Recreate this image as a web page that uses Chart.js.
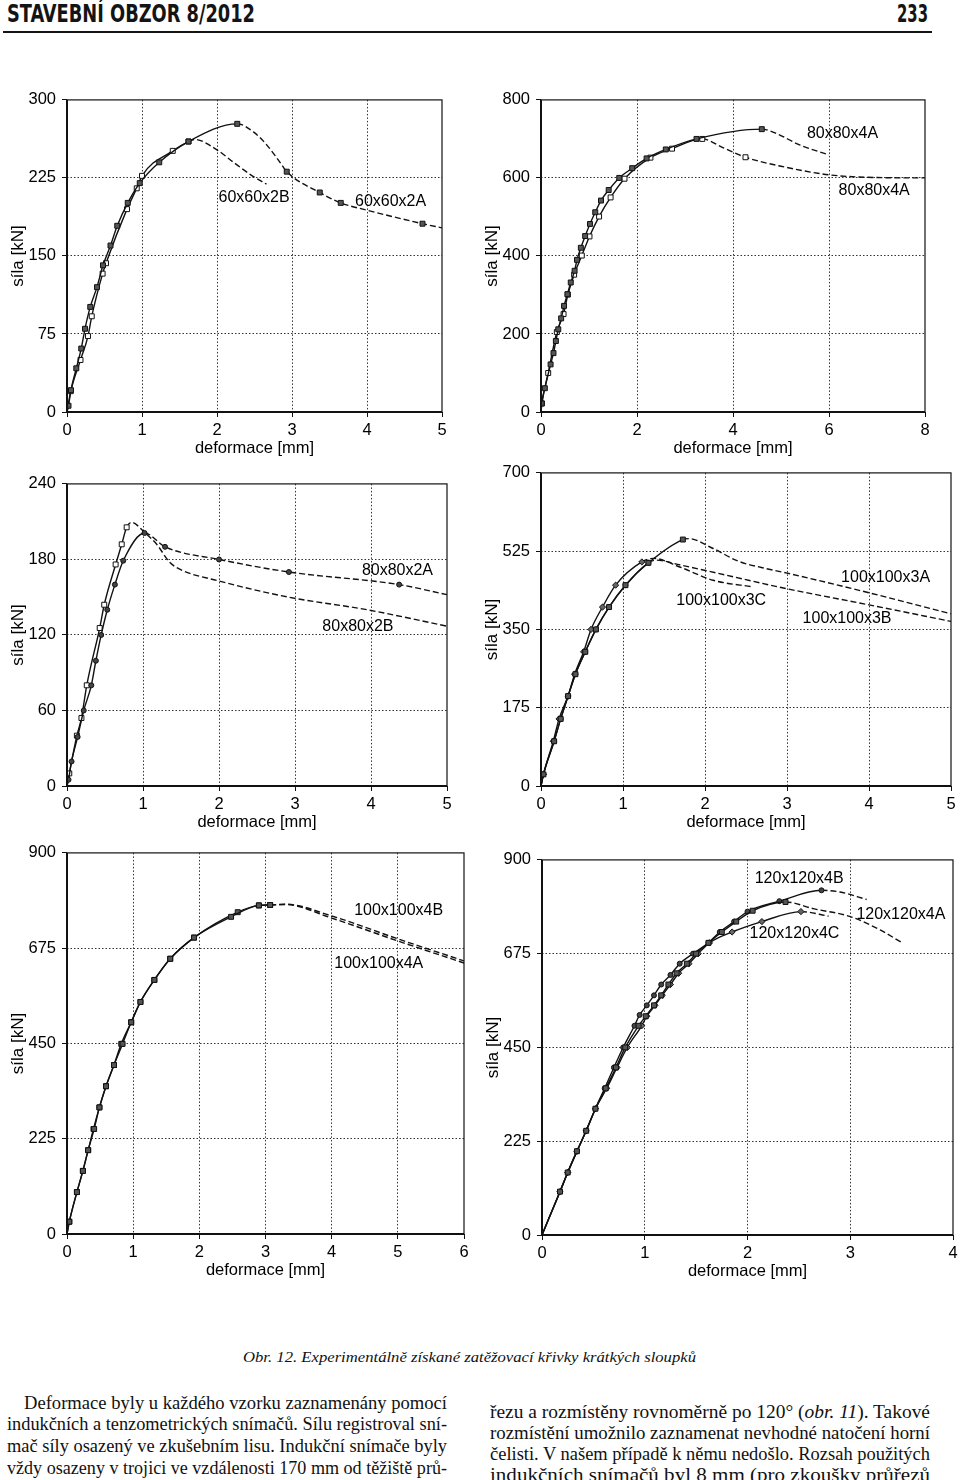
<!DOCTYPE html>
<html>
<head>
<meta charset="utf-8">
<script src="https://cdn.jsdelivr.net/npm/chart.js@4.4.1/dist/chart.umd.min.js"></script>
<style>
  html, body { margin: 0; padding: 0; background: #fff; }
  body { position: relative; width: 960px; height: 1480px; overflow: hidden; color: #111; }
  canvas { position: absolute; }
  .fit { position: absolute; white-space: nowrap; display: inline-block; transform-origin: 0 50%; }
  .hdr { font-family: "Liberation Sans Narrow", "DejaVu Sans Condensed", "Liberation Sans", sans-serif; font-weight: bold; font-size: 25px; line-height: 25px; color: #141414; }
  .rule { position: absolute; left: 3px; top: 31px; width: 929px; height: 2px; background: #141414; }
  .cap { font-family: "Liberation Serif", "DejaVu Serif", serif; font-style: italic; font-size: 15px; line-height: 15px; }
  .txt { font-family: "Liberation Serif", "DejaVu Serif", serif; font-size: 19.5px; line-height: 20px; }
</style>
</head>
<body>

<div class="rule"></div>
<span class="fit hdr" data-l="7" data-t="1" data-w="248">STAVEBNÍ OBZOR 8/2012</span>
<span class="fit hdr" data-l="897" data-t="1" data-w="31">233</span>

<canvas id="chart1"></canvas>
<canvas id="chart2"></canvas>
<canvas id="chart3"></canvas>
<canvas id="chart4"></canvas>
<canvas id="chart5"></canvas>
<canvas id="chart6"></canvas>

<span class="fit cap" data-l="243" data-t="1350" data-w="453">Obr. 12. Experimentálně získané zatěžovací křivky krátkých sloupků</span>

<span class="fit txt" data-l="24" data-t="1393" data-w="423">Deformace byly u každého vzorku zaznamenány pomocí</span>
<span class="fit txt" data-l="7" data-t="1414" data-w="440">indukčních a tenzometrických snímačů. Sílu registroval sní-</span>
<span class="fit txt" data-l="7" data-t="1436" data-w="440">mač síly osazený ve zkušebním lisu. Indukční snímače byly</span>
<span class="fit txt" data-l="7" data-t="1458" data-w="440">vždy osazeny v trojici ve vzdálenosti 170 mm od těžiště prů-</span>

<span class="fit txt" data-l="490" data-t="1402" data-w="440">řezu a rozmístěny rovnoměrně po 120° (<i>obr. 11</i>). Takové</span>
<span class="fit txt" data-l="490" data-t="1423" data-w="440">rozmístění umožnilo zaznamenat nevhodné natočení horní</span>
<span class="fit txt" data-l="490" data-t="1444" data-w="440">čelisti. V našem případě k němu nedošlo. Rozsah použitých</span>
<span class="fit txt" data-l="490" data-t="1465" data-w="440">indukčních snímačů byl 8 mm (pro zkoušky průřezů</span>

<script>
const FONT = '"Liberation Sans", Arial, Helvetica, sans-serif';
const INK = '#111';

// panel 1 - 60x60x2
const p1_60x60x2A = [[0,0],[0.02,6],[0.053,21],[0.124,42],[0.19,61],[0.24,80],[0.31,101],[0.40,120],[0.48,141],[0.58,160],[0.67,179],[0.81,201],[0.97,220],[1.23,240],[1.62,260],[2.27,277],[2.49,269],[2.66,257],[2.84,240],[2.93,231],[3.37,211],[3.65,201],[4.0,194],[4.74,181],[5.0,177]];
const p1_60x60x2B = [[0,0],[0.05,20],[0.18,50],[0.28,73],[0.33,92],[0.475,133],[0.52,143],[0.80,195],[0.93,215],[1.0,227],[1.41,251],[1.62,260],[1.7,262],[2.0,252],[2.22,240],[2.45,228],[2.66,219]];
const p1_marksA = [2.93, 3.37, 3.65, 4.74];

// panel 2 - 80x80x4
const p2_80x80x4A_up = [[0,0],[0.014,22],[0.08,61],[0.2,122],[0.26,151],[0.31,182],[0.36,212],[0.42,240],[0.48,272],[0.55,302],[0.62,332],[0.70,362],[0.75,390],[0.83,421],[0.92,451],[1.02,482],[1.13,512],[1.25,542],[1.41,569],[1.63,600],[1.9,625],[2.2,650],[2.6,673],[3.24,700],[4.6,725],[4.9,714],[5.4,684],[6.0,659]];
const p2_80x80x4A_low = [[0,0],[0.02,22],[0.15,100],[0.33,205],[0.47,251],[0.56,301],[0.69,352],[0.85,401],[1.01,450],[1.21,501],[1.45,550],[1.74,598],[2.28,652],[2.73,675],[3.36,700],[3.8,677],[4.26,653],[5.0,630],[6.0,608],[7.0,601],[8.0,600]];
const p2_marksLow = [4.26];

// panel 3 - 80x80x2
const p3_80x80x2A = [[0,0],[0.02,5],[0.06,19.5],[0.14,39],[0.22,60],[0.32,80],[0.38,99.5],[0.45,120],[0.53,140],[0.63,160],[0.74,179],[1.02,201],[1.29,190],[2.0,180],[2.92,170],[4.37,160],[5.0,152]];
const p3_80x80x2B = [[0,0],[0.03,10],[0.13,40],[0.19,54],[0.26,80],[0.43,125.5],[0.49,144],[0.64,176],[0.72,192],[0.785,205.5],[0.85,209.4],[1.02,201.5],[1.18,192],[1.355,177.5],[1.49,172],[1.99,163],[2.92,150],[3.95,140],[5.0,127]];
const p3_marksA = [1.29, 2.0, 2.92, 4.37];

// panel 4 - 100x100x3
const p4_100x100x3A = [[0,0],[0.03,26],[0.16,100],[0.24,150],[0.33,201],[0.42,250],[0.54,300],[0.67,350],[0.83,400],[1.03,449],[1.31,499],[1.73,551],[1.8,553],[2.1,531],[2.4,503],[2.7,488],[3.0,476],[4.0,432],[5.0,385]];
const p4_100x100x3B = [[0,0],[0.03,26],[0.16,100],[0.24,150],[0.33,201],[0.42,250],[0.54,300],[0.67,350],[0.83,400],[1.03,449],[1.31,499],[1.4,505],[1.7,494],[3.0,441],[4.0,405],[5.0,368]];
const p4_100x100x3C = [[0,0],[0.03,26],[0.15,100],[0.22,150],[0.33,201],[0.41,250],[0.52,300],[0.61,350],[0.75,400],[0.91,449],[1.23,501],[1.37,509],[1.7,489],[2.1,460],[2.59,445]];

// panel 5 - 100x100x4
const p5_100x100x4A = [[0,0],[0.035,29],[0.15,99],[0.24,149],[0.32,198],[0.41,248],[0.49,299],[0.59,349],[0.71,399],[0.84,449],[0.97,500],[1.11,548],[1.32,600],[1.56,650],[1.92,700],[2.48,749],[2.90,776],[3.07,777],[3.3,778],[4.0,746],[5.0,692],[6.0,640]];
const p5_100x100x4B = [[0,0],[0.035,29],[0.15,99],[0.24,149],[0.32,198],[0.40,248],[0.49,299],[0.59,349],[0.71,399],[0.82,449],[0.97,500],[1.11,548],[1.32,600],[1.56,650],[1.92,700],[2.58,760],[2.90,776],[3.07,777],[3.3,779],[4.0,751],[5.0,697],[6.0,645]];

// panel 6 - 120x120x4
const p6_120x120x4A = [[0,0],[0.175,104],[0.25,150],[0.34,201],[0.43,250],[0.52,303],[0.62,352],[0.72,402],[0.81,450],[0.94,502],[1.01,525],[1.09,551],[1.16,575],[1.23,601],[1.31,628],[1.41,651],[1.50,675],[1.62,701],[1.75,727],[1.89,752],[2.05,778],[2.37,799],[2.64,783],[3.0,764],[3.29,732],[3.5,702]];
const p6_120x120x4B = [[0,0],[0.175,104],[0.25,150],[0.34,201],[0.43,250],[0.52,303],[0.61,352],[0.70,402],[0.79,450],[0.90,502],[0.95,528],[1.02,551],[1.09,575],[1.16,601],[1.25,624],[1.34,651],[1.47,675],[1.62,701],[1.73,727],[1.87,752],[2.0,776],[2.31,801],[2.72,827],[2.9,823],[3.16,805]];
const p6_120x120x4C = [[0,0],[0.175,104],[0.25,150],[0.34,201],[0.43,250],[0.52,303],[0.63,352],[0.73,402],[0.83,450],[0.97,502],[1.02,525],[1.10,551],[1.17,575],[1.25,601],[1.33,628],[1.43,651],[1.52,675],[1.63,701],[1.85,727],[2.14,752],[2.52,776],[2.79,765]];

// marker looks
const OPEN_SQ = { shape: 'rect', r: 3.5, fill: '#fff' };
const FILL_SQ = { shape: 'rect', r: 3.5, fill: '#555' };
const FILL_CI = { shape: 'circle', r: 2.5, fill: '#444' };
const DIAM = { shape: 'rectRot', r: 3.1, fill: '#666' };

function specimen(arr, split, look, marks) {
  marks = marks || [];
  return {
    data: arr.map(p => ({ x: p[0], y: p[1] })),
    showLine: true,
    borderColor: INK,
    borderWidth: 1.4,
    cubicInterpolationMode: 'monotone',
    segment: { borderDash: c => c.p0.parsed.x >= split ? [6, 3] : undefined },
    pointStyle: look.shape,
    pointRadius: c => {
      const v = c.raw;
      if (!v || v.x === 0) return 0;
      return (v.x <= split || marks.includes(v.x)) ? look.r : 0;
    },
    pointBackgroundColor: look.fill,
    pointBorderColor: INK,
    pointBorderWidth: 1
  };
}

const frame = {
  id: 'frame',
  afterDraw(chart, args, opts) {
    const { ctx, chartArea: a, scales: { x, y } } = chart;
    ctx.save();
    ctx.strokeStyle = INK;
    ctx.lineWidth = 1.2;
    ctx.strokeRect(a.left, a.top, a.right - a.left, a.bottom - a.top);
    ctx.lineWidth = 2;
    ctx.beginPath();
    ctx.moveTo(a.left, a.top); ctx.lineTo(a.left, a.bottom); ctx.lineTo(a.right, a.bottom);
    ctx.stroke();
    ctx.font = '16px ' + FONT;
    ctx.fillStyle = '#000';
    ctx.textBaseline = 'middle';
    (opts.labels || []).forEach(l => {
      ctx.fillText(l[2], x.getPixelForValue(l[0]), y.getPixelForValue(l[1]));
    });
    ctx.restore();
  }
};

function makePanel(id, box, xMax, xStep, yMax, yStep, datasets, labels) {
  const [L, T, R, B] = box;
  const PT = 10, PR = 10, YW = 67, XH = 48;
  const cv = document.getElementById(id);
  cv.width = R - L + YW + PR;
  cv.height = B - T + PT + XH;
  cv.style.left = (L - YW) + 'px';
  cv.style.top = (T - PT) + 'px';
  const gridCol = max => c => (c.tick && c.tick.value > 0 && c.tick.value < max) ? '#333' : 'rgba(0,0,0,0)';
  new Chart(cv, {
    type: 'scatter',
    data: { datasets: datasets },
    plugins: [frame],
    options: {
      responsive: false,
      animation: false,
      layout: { padding: { top: PT, right: PR, left: 0, bottom: 0 } },
      plugins: { legend: { display: false }, tooltip: { enabled: false }, frame: { labels: labels } },
      scales: {
        x: {
          type: 'linear', min: 0, max: xMax,
          afterFit: s => { s.height = XH; },
          ticks: { stepSize: xStep, color: '#000', font: { family: FONT, size: 16.5 }, padding: 4, maxRotation: 0 },
          grid: { color: gridCol(xMax), lineWidth: 1, tickLength: 5, tickColor: INK, tickBorderDash: [] },
          border: { display: false, dash: [1.5, 2] },
          title: { display: true, text: 'deformace [mm]', color: '#000', font: { family: FONT, size: 16.5 }, padding: { top: 0, bottom: 2 } }
        },
        y: {
          type: 'linear', min: 0, max: yMax,
          afterFit: s => { s.width = YW; },
          ticks: { stepSize: yStep, color: '#000', font: { family: FONT, size: 16.5 }, padding: 6 },
          grid: { color: gridCol(yMax), lineWidth: 1, tickLength: 5, tickColor: INK, tickBorderDash: [] },
          border: { display: false, dash: [1.5, 2] },
          title: { display: true, text: 'síla [kN]', color: '#000', font: { family: FONT, size: 17 }, padding: { top: 8, bottom: 0 } }
        }
      }
    }
  });
}

makePanel('chart1', [67, 94, 442, 412], 5, 1, 300, 75, [
  specimen(p1_60x60x2A, 2.27, FILL_SQ, p1_marksA),
  specimen(p1_60x60x2B, 1.62, OPEN_SQ)
], [[2.02, 206, '60x60x2B'], [3.84, 202, '60x60x2A']]);

makePanel('chart2', [541, 94, 925, 412], 8, 2, 800, 200, [
  specimen(p2_80x80x4A_up, 4.6, FILL_SQ),
  specimen(p2_80x80x4A_low, 3.36, OPEN_SQ, p2_marksLow)
], [[5.54, 714, '80x80x4A'], [6.2, 567, '80x80x4A']]);

makePanel('chart3', [67, 478, 447, 786], 5, 1, 240, 60, [
  specimen(p3_80x80x2A, 1.02, FILL_CI, p3_marksA),
  specimen(p3_80x80x2B, 0.785, OPEN_SQ)
], [[3.88, 171, '80x80x2A'], [3.36, 127, '80x80x2B']]);

makePanel('chart4', [541, 467, 951, 786], 5, 1, 700, 175, [
  specimen(p4_100x100x3A, 1.73, FILL_SQ),
  specimen(p4_100x100x3B, 1.31, FILL_CI),
  specimen(p4_100x100x3C, 1.23, DIAM)
], [[3.66, 465, '100x100x3A'], [1.65, 414, '100x100x3C'], [3.19, 375, '100x100x3B']]);

makePanel('chart5', [67, 847, 464, 1234], 6, 1, 900, 225, [
  specimen(p5_100x100x4A, 3.07, FILL_SQ),
  specimen(p5_100x100x4B, 3.07, FILL_SQ)
], [[4.34, 763, '100x100x4B'], [4.04, 639, '100x100x4A']]);

makePanel('chart6', [542, 854, 953, 1235], 4, 1, 900, 225, [
  specimen(p6_120x120x4A, 2.37, FILL_SQ),
  specimen(p6_120x120x4B, 2.72, FILL_CI),
  specimen(p6_120x120x4C, 2.52, DIAM)
], [[2.07, 854, '120x120x4B'], [3.06, 768, '120x120x4A'], [2.02, 722, '120x120x4C']]);

// squeeze page text to the widths of the printed lines
document.querySelectorAll('.fit').forEach(el => {
  el.style.left = el.dataset.l + 'px';
  el.style.top = el.dataset.t + 'px';
  const w = el.getBoundingClientRect().width;
  el.style.transform = 'scaleX(' + (Number(el.dataset.w) / w) + ')';
});
</script>
</body>
</html>
